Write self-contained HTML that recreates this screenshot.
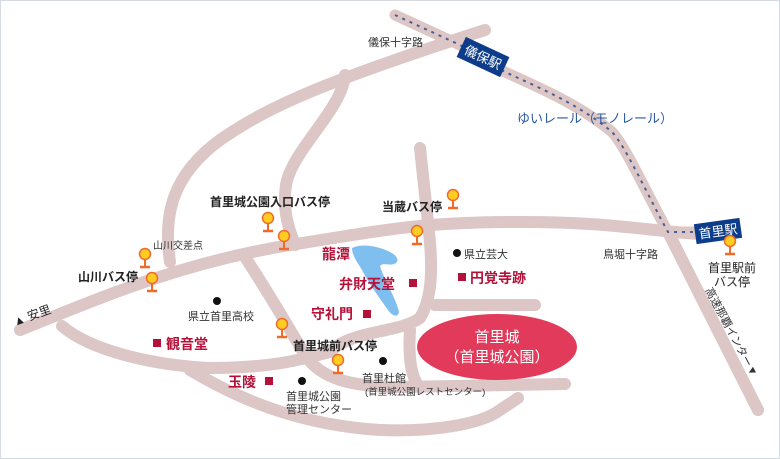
<!DOCTYPE html>
<html><head><meta charset="utf-8"><style>
html,body{margin:0;padding:0;background:#fff}
svg{display:block}
text{font-family:"Liberation Sans","Noto Sans CJK JP",sans-serif}
</style></head><body>
<svg width="780" height="459" viewBox="0 0 780 459" xmlns="http://www.w3.org/2000/svg">
<rect x="0.5" y="0.5" width="779" height="458" fill="#fff" stroke="#d6dae2"/>
<defs>
<g id="pin"><line x1="0" y1="0" x2="0" y2="13" stroke="#f06a2a" stroke-width="2"/><line x1="-5" y1="13" x2="5" y2="13" stroke="#f06a2a" stroke-width="2.5"/><circle cx="0" cy="0" r="5.5" fill="#ffcc22" stroke="#f06a2a" stroke-width="1.5"/></g>
</defs>
<g fill="none" stroke="#dcc6c6" stroke-width="12" stroke-linecap="round" stroke-linejoin="round">
<path d="M20,330 C100,298 180,263 290,245 S430,222 520,222 S640,230 700,234"/>
<path d="M170,262 C163,215 172,175 220,140 C270,105 330,80 485,30"/>
<path d="M345,75 C342,110 292,150 286,185 C282,212 290,232 295,245"/>
<path d="M420,148 L429,232 C433,270 432,298 420,318 C400,333 350,330 330,352"/>
<path d="M435,305 L535,305"/>
<path d="M62,326 C90,350 150,365 210,368 C270,368 300,360 330,352"/>
<path d="M245,257 C270,295 290,330 305,355 C320,378 350,387 400,387 L565,384"/>
<path d="M410,330 C408,360 412,380 420,387"/>
<path d="M190,370 C240,400 300,425 380,430 C430,432 480,425 500,410 L518,398"/>
<path d="M668,232 L758,410"/>
</g>
<path d="M395,15 L460,45 L505,72 C540,88 580,105 612,132 C625,145 650,200 668,232 L720,232" fill="none" stroke="#dcc6c6" stroke-width="11" stroke-linecap="round" stroke-linejoin="round"/>
<path d="M395,15 L460,45 L505,72 C540,88 580,105 612,132 C625,145 650,200 668,232 L720,232" fill="none" stroke="#4a5f8f" stroke-width="2" stroke-dasharray="3,5"/>
<path d="M352,248 C362,243 378,246 390,252 C398,256 400,262 394,264 C388,266 384,262 380,266 C384,280 396,298 399,312 C398,318 392,316 388,310 C378,296 368,282 362,270 C357,262 352,255 352,248Z" fill="#7fbff0"/>
<g transform="translate(483,57) rotate(25)"><rect x="-24" y="-11" width="48" height="22" fill="#0d3d8a"/><text x="0" y="5" font-size="13" fill="#fff" text-anchor="middle">儀保駅</text></g>
<g transform="translate(718,231) rotate(-8)"><rect x="-23" y="-10" width="46" height="20" fill="#0d3d8a"/><text x="0" y="5" font-size="13" fill="#fff" text-anchor="middle">首里駅</text></g>
<text x="517" y="123" font-size="13" fill="#2b5aa5">ゆいレール（モノレール）</text>
<text x="368" y="46" font-size="11" fill="#333">儀保十字路</text>
<text x="603" y="258" font-size="11" fill="#333">鳥堀十字路</text>
<text x="708" y="272" font-size="12" fill="#222">首里駅前</text>
<text x="714" y="286" font-size="12" fill="#222">バス停</text>
<text transform="translate(705,290) rotate(62)" font-size="11" fill="#333">高速那覇インター▼</text>
<g font-weight="bold" font-size="12" fill="#222">
<text x="382" y="211">当蔵バス停</text>
<text x="210" y="206">首里城公園入口バス停</text>
<text x="78" y="281">山川バス停</text>
<text x="293" y="350">首里城前バス停</text>
</g>
<text x="153" y="249" font-size="10" fill="#333">山川交差点</text>
<text transform="translate(15,326) rotate(-20)" font-size="12" fill="#222">▲ 安里</text>
<circle cx="217" cy="301" r="4" fill="#111"/>
<text x="188" y="320" font-size="11" fill="#333">県立首里高校</text>
<circle cx="457" cy="253" r="4" fill="#111"/>
<text x="464" y="258" font-size="11" fill="#333">県立芸大</text>
<circle cx="383" cy="361" r="4" fill="#111"/>
<text x="362" y="382" font-size="11" fill="#333">首里杜館</text>
<text x="365" y="395" font-size="9.5" fill="#333">(首里城公園レストセンター)</text>
<circle cx="302" cy="381" r="4" fill="#111"/>
<text x="286" y="400" font-size="11" fill="#333">首里城公園</text>
<text x="286" y="413" font-size="11" fill="#333">管理センター</text>
<g font-weight="bold" font-size="14" fill="#b5123a">
<text x="322" y="259">龍潭</text>
<text x="339" y="289">弁財天堂</text>
<text x="311" y="319">守礼門</text>
<text x="228" y="387">玉陵</text>
<text x="166" y="349">観音堂</text>
<text x="470" y="283">円覚寺跡</text>
</g>
<g fill="#b5123a">
<rect x="409" y="279" width="8" height="8"/><rect x="363" y="310" width="8" height="8"/><rect x="265" y="377" width="8" height="8"/><rect x="153" y="339" width="8" height="8"/><rect x="458" y="273" width="8" height="8"/>
</g>
<ellipse cx="497" cy="347" rx="80" ry="33" fill="#e23a5a"/>
<text x="497" y="342" font-size="15" fill="#fff" text-anchor="middle">首里城</text>
<text x="497" y="362" font-size="15" fill="#fff" text-anchor="middle">（首里城公園）</text>
<use href="#pin" x="453" y="195"/>
<use href="#pin" x="268" y="218"/>
<use href="#pin" x="284" y="236"/>
<use href="#pin" x="417" y="231"/>
<use href="#pin" x="145" y="254"/>
<use href="#pin" x="152" y="278"/>
<use href="#pin" x="282" y="324"/>
<use href="#pin" x="338" y="360"/>
<use href="#pin" x="730" y="241"/>
</svg>
</body></html>
